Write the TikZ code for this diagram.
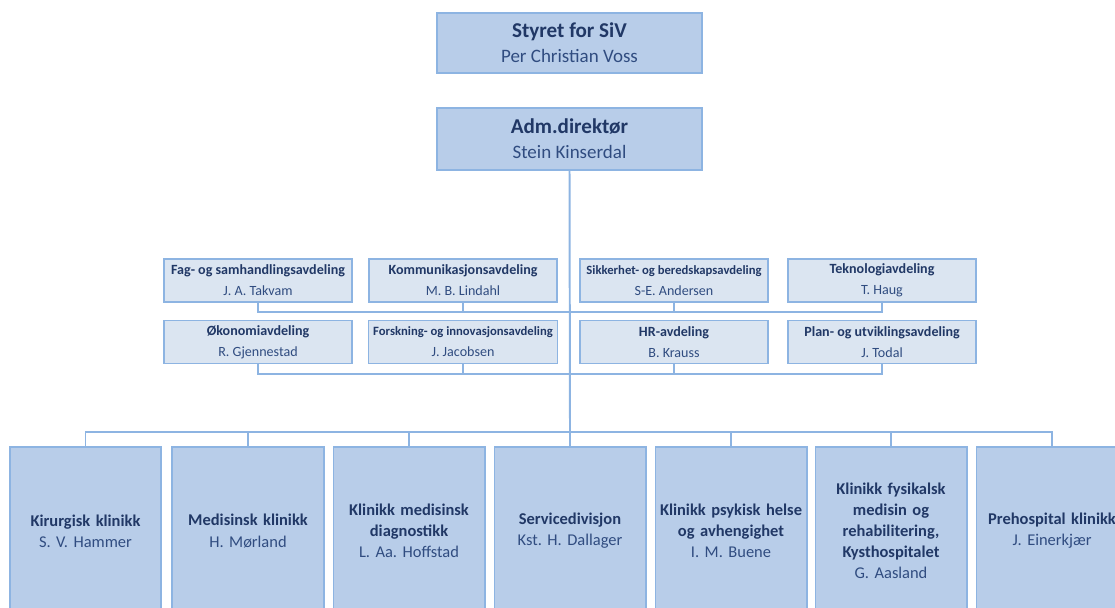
\documentclass[tikz,border=0pt]{standalone}
\usepackage{fontspec}
\setmainfont{Carlito}
\usepackage{xcolor}
\usepackage{tikz}
\usetikzlibrary{positioning, calc}
\frenchspacing

\definecolor{boxfill}{RGB}{184,205,233}
\definecolor{stafffill}{RGB}{219,229,241}
\definecolor{boxline}{RGB}{141,180,226}
\definecolor{inktitle}{RGB}{33,56,102}
\definecolor{inkname}{RGB}{48,76,128}

\newcommand{\orgentry}[2]{\textbf{#1}\\{\color{inkname}#2}}

\tikzset{
    topbox/.style={draw=boxline, line width=1.4pt, fill=boxfill, text=inktitle,
        minimum width=6.625cm, minimum height=1.5cm, align=center,
        font=\fontsize{13.5}{18}\selectfont},
    staffbox/.style={draw=boxline, line width=1pt, fill=stafffill, text=inktitle,
        minimum width=4.7cm, minimum height=1.075cm, align=center,
        font=\fontsize{10}{15}\selectfont},
    clinicbox/.style={draw=boxline, line width=1.4pt, fill=boxfill, text=inktitle,
        minimum width=3.775cm, minimum height=4.2cm, inner xsep=0pt, align=center,
        text width=3.6cm, font=\fontsize{11.7}{15}\selectfont},
    link/.style={draw=boxline, line width=1.4pt}
}

\begin{document}
\begin{tikzpicture}[x=0.025cm, y=-0.025cm]
            \useasboundingbox (0,0) rectangle (1115,607);
            \clip (0,0) rectangle (1115,607);

            \coordinate (bus1) at (570,312);
            \coordinate (bus2) at (570,374);
            \coordinate (bus3) at (570,432);

            % Top
            \node[topbox] (styret) at (569.5,43) {\orgentry{\fontsize{15}{18}\selectfont Styret for SiV}{Per Christian Voss}};
            \node[topbox, minimum height=1.55cm] (adm) at (569.5,139) {\orgentry{\fontsize{15}{18}\selectfont Adm.direktør}{Stein Kinserdal}};

            % Staff
            \node[staffbox] (fag) at (258,280.5) {\orgentry{Fag- og samhandlingsavdeling}{J. A. Takvam}};
            \node[staffbox] (kom) at (463,280.5) {\orgentry{Kommunikasjonsavdeling}{M. B. Lindahl}};
            \node[staffbox] (sik) at (674,280.5) {\orgentry{\fontsize{9}{15}\selectfont Sikkerhet- og beredskapsavdeling}{S-E. Andersen}};
            \node[staffbox] (tek) at (882,280.5) {\orgentry{Teknologiavdeling}{T. Haug}};

            \node[staffbox] (oko) at (258,342) {\orgentry{Økonomiavdeling}{R. Gjennestad}};
            \node[staffbox] (fors) at (463,342) {\orgentry{\fontsize{9}{15}\selectfont Forskning- og innovasjonsavdeling}{J. Jacobsen}};
            \node[staffbox] (hr) at (674,342) {\orgentry{HR-avdeling}{B. Krauss}};
            \node[staffbox] (plan) at (882,342) {\orgentry{Plan- og utviklingsavdeling}{J. Todal}};

            % Clinics
            \node[clinicbox] (kir) at (85.5,531) {\orgentry{Kirurgisk klinikk}{S. V. Hammer}};
            \node[clinicbox] (med) at (248,531) {\orgentry{Medisinsk klinikk}{H. Mørland}};
            \node[clinicbox] (diag) at (409,531) {\orgentry{Klinikk medisinsk\\diagnostikk}{L. Aa. Hoffstad}};
            \node[clinicbox] (serv) at (570,531) {\orgentry{Servicedivisjon}{Kst. H. Dallager}};
            \node[clinicbox] (psyk) at (731,531) {\orgentry{Klinikk psykisk helse\\og avhengighet}{I. M. Buene}};
            \node[clinicbox] (fys) at (891,531) {\orgentry{Klinikk fysikalsk\\medisin og\\rehabilitering,\\Kysthospitalet}{G. Aasland}};
            \node[clinicbox] (pre) at (1052,531) {\orgentry{\makebox[3.6cm][c]{Prehospital klinikk}}{J. Einerkjær}};

            % Connectors
            \draw[link] (adm.south) -- (bus3);
            \draw[link] (fag.south) -- (fag.south |- bus1) -- (tek.south |- bus1) -- (tek.south);
            \draw[link] (oko.south) -- (oko.south |- bus2) -- (plan.south |- bus2) -- (plan.south);
            \foreach \n in {kom, sik} \draw[link] (\n.south) -- (\n.south |- bus1);
            \foreach \n in {fors, hr} \draw[link] (\n.south) -- (\n.south |- bus2);
            \draw[link] (kir.north) -- (kir.north |- bus3) -- (pre.north |- bus3) -- (pre.north);
            \foreach \n in {med, diag, serv, psyk, fys} \draw[link] (\n.north) -- (\n.north |- bus3);
        \end{tikzpicture}
\end{document}
